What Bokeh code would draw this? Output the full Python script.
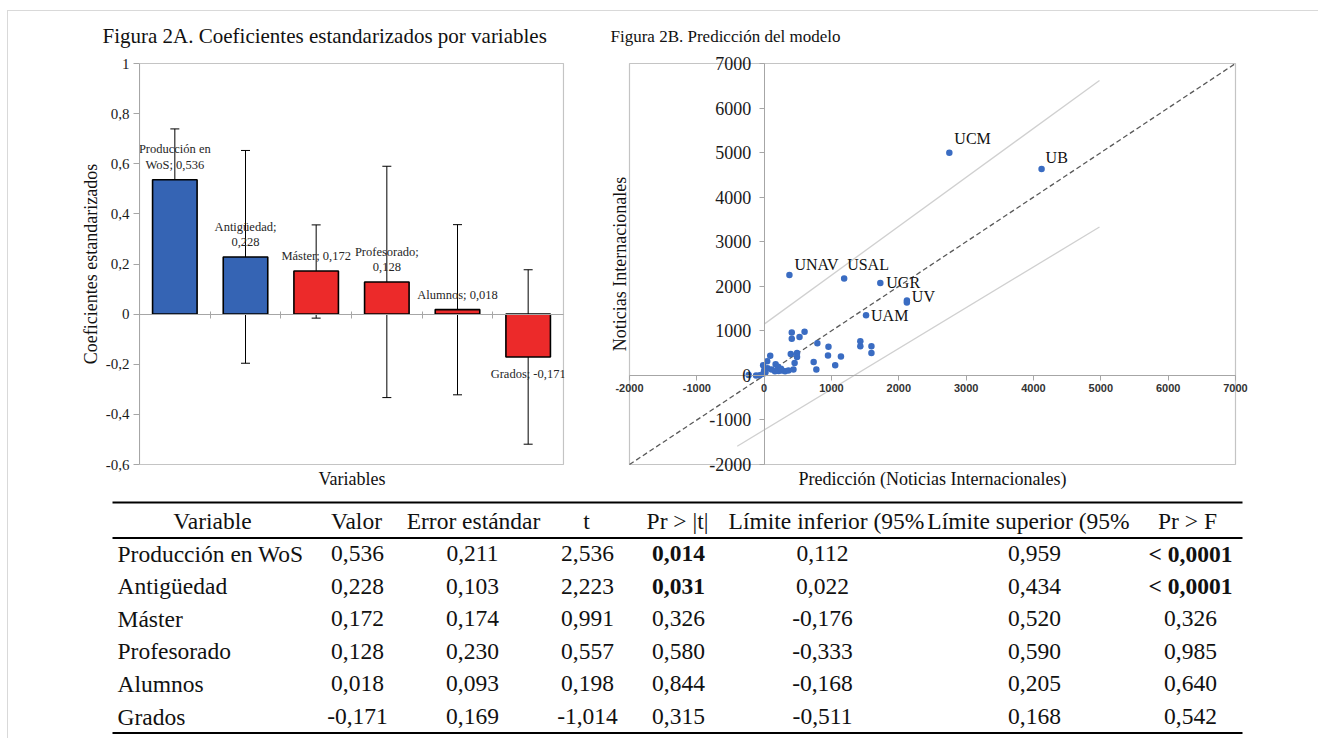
from bokeh.plotting import figure
from bokeh.models import (ColumnDataSource, Range1d, LinearAxis, FixedTicker, Whisker, TeeHead,
                          CustomJSTickFormatter, LabelSet)
from bokeh.layouts import row, column
from bokeh.core.properties import value
from bokeh.embed import file_html
from bokeh.resources import INLINE

# ---------------- data ----------------
variables = ["Producción en WoS", "Antigüedad", "Máster", "Profesorado", "Alumnos", "Grados"]
coef = [0.536, 0.228, 0.172, 0.128, 0.018, -0.171]
err_low = [0.330, -0.196, -0.016, -0.333, -0.322, -0.519]
err_high = [0.739, 0.653, 0.356, 0.590, 0.357, 0.177]
bar_label_names = ["Producción en\nWoS;", "Antigüedad;\n", "Máster;", "Profesorado;\n", "Alumnos;", "Grados;"]
a_lim = [-0.6, 1.0]
a_ticks = [-0.6, -0.4, -0.2, 0, 0.2, 0.4, 0.6, 0.8, 1]

std_err = [0.211, 0.103, 0.174, 0.230, 0.093, 0.169]
t_val = [2.536, 2.223, 0.991, 0.557, 0.198, -1.014]
pr_t = [0.014, 0.031, 0.326, 0.580, 0.844, 0.315]
ci_low = [0.112, 0.022, -0.176, -0.333, -0.168, -0.511]
ci_high = [0.959, 0.434, 0.520, 0.590, 0.205, 0.168]
pr_f = ["< 0,0001", "< 0,0001", "0,326", "0,985", "0,640", "0,542"]
headers = ["Variable", "Valor", "Error estándar", "t", "Pr > |t|",
           "Límite inferior (95%", "Límite superior (95%", "Pr > F"]

names = ["UCM", "UB", "UNAV", "USAL", "UGR", "UV", "UAM"]
pred_named = [2750, 4120, 375, 1188, 1725, 2119, 1513]
obs_named = [4995, 4630, 2255, 2172, 2076, 1634, 1351]
pred_other = [410, 410, 600, 525, 790, 395, 488, 488, 452, 435, 735, 775, 955, 948, 1140, 1055,
              1428, 1428, 1593, 1593, 90, 45, -15, 170, 205, 50, 160, 215, 265, 310, 360, 20,
              -15, -65, -120, -230, 0, 110, 250, 2120]
obs_other = [965, 820, 980, 860, 720, 480, 505, 410, 280, 130, 300, 130, 640, 445, 425, 230,
             765, 655, 655, 500, 440, 315, 230, 250, 195, 160, 95, 100, 110, 95, 110, 70,
             35, 5, 0, 10, 110, 130, 150, 1680]
band_up_x = [0, 4980]
band_up_y = [1150, 6620]
band_lo_x = [-400, 4980]
band_lo_y = [-1590, 3330]
b_lim = [-2000, 7000]
b_ticks = [-2000, -1000, 0, 1000, 2000, 3000, 4000, 5000, 6000, 7000]

# ---------------- styles ----------------
SERIF = "Liberation Serif"
BLUE = "#3564B4"
RED = "#EC2A2A"
AXIS_GRAY = "#a6a6a6"
FRAME_GRAY = "#c4c4c4"
TXT = "#111111"

FIG_H = 487
BOX_TOP = 52          # border above the drawn box (px, inside each figure)
BOX_H = 401           # height of the drawn plot box
PAD_Y = 10            # room kept above/below the box so edge labels are not clipped
TOP_B = BOX_TOP - PAD_Y
BOT_B = FIG_H - TOP_B - (BOX_H + 2 * PAD_Y)


def fmt(v):
    return f"{v:.3f}".replace(".", ",")


def label_axis(text, standoff):
    return LinearAxis(ticker=FixedTicker(ticks=[]), axis_label=text, axis_line_color=None,
                      major_tick_line_color=None, minor_tick_line_color=None, major_tick_out=0,
                      major_tick_in=0, major_label_standoff=0, axis_label_standoff=standoff,
                      major_label_text_color=None,
                      axis_label_text_font=SERIF, axis_label_text_font_size="18px",
                      axis_label_text_font_style="normal", axis_label_text_color=TXT)


# ---------------- Figura 2A ----------------
n = len(variables)
xpos = [i + 0.5 for i in range(n)]
colors = [BLUE if p < 0.05 else RED for p in pr_t]
bar_labels = [nm + ("" if nm.endswith("\n") else " ") + fmt(v) for nm, v in zip(bar_label_names, coef)]

A_BOX_W = 424
a_span = a_lim[1] - a_lim[0]
a_pad = a_span * PAD_Y / BOX_H
pA = figure(width=580, height=FIG_H,
            x_range=Range1d(0, n + n * 1.0 / A_BOX_W),
            y_range=Range1d(a_lim[0] - a_pad, a_lim[1] + a_pad),
            x_axis_type=None, output_backend="svg", toolbar_location=None,
            min_border_left=131, min_border_right=580 - 131 - (A_BOX_W + 1),
            min_border_top=TOP_B, min_border_bottom=BOT_B,
            title="Figura 2A. Coeficientes estandarizados por variables")
pA.grid.visible = False
pA.outline_line_color = None
pA.title.text_font = SERIF
pA.title.text_font_size = "21px"
pA.title.text_font_style = "normal"
pA.title.text_color = TXT
pA.title.align = "left"
pA.title.offset = -37
pA.title.standoff = 12

pA.quad(left=0, right=n, bottom=a_lim[0], top=a_lim[1], fill_color=None,
        line_color=FRAME_GRAY, line_width=1.2)

srcA = ColumnDataSource(dict(x=xpos, top=coef, lower=err_low, upper=err_high, color=colors))
pA.vbar(x="x", top="top", bottom=0, width=0.63, fill_color="color", line_color="black",
        line_width=1.6, source=srcA)
pA.add_layout(Whisker(source=srcA, base="x", lower="lower", upper="upper", line_color="black",
                      line_width=1,
                      upper_head=TeeHead(size=9, line_color="black", line_width=1),
                      lower_head=TeeHead(size=9, line_color="black", line_width=1)))

pos = [i for i, v in enumerate(coef) if v >= 0]
neg = [i for i, v in enumerate(coef) if v < 0]
srcPos = ColumnDataSource(dict(x=[xpos[i] for i in pos], y=[coef[i] for i in pos],
                               t=[bar_labels[i] for i in pos]))
srcNeg = ColumnDataSource(dict(x=[xpos[i] for i in neg], y=[coef[i] for i in neg],
                               t=[bar_labels[i] for i in neg]))
pA.text(x="x", y="y", text="t", source=srcPos, text_align="center", text_baseline="bottom",
        y_offset=-8, text_font=value(SERIF), text_font_size="12.5px", text_color="#262626",
        text_line_height=1.1)
pA.text(x="x", y="y", text="t", source=srcNeg, text_align="center", text_baseline="top",
        y_offset=10, text_font=value(SERIF), text_font_size="12.5px", text_color="#262626")

ya = pA.yaxis[0]
ya.ticker = FixedTicker(ticks=a_ticks)
ya.bounds = tuple(a_lim)
ya.formatter = CustomJSTickFormatter(code="""
    if (Math.abs(tick) < 1e-9) return "0";
    if (Math.abs(tick - Math.round(tick)) < 1e-9) return tick.toFixed(0);
    return tick.toFixed(1).replace('.', ',');
""")
ya.major_label_text_font = SERIF
ya.major_label_text_font_size = "15px"
ya.major_label_text_color = "#1a1a1a"
ya.major_label_standoff = 4
ya.major_tick_out = 6
ya.major_tick_in = 0
ya.minor_tick_line_color = None
ya.axis_line_color = AXIS_GRAY
ya.major_tick_line_color = AXIS_GRAY
ya.axis_label = "Coeficientes estandarizados"
ya.axis_label_text_font = SERIF
ya.axis_label_text_font_size = "18px"
ya.axis_label_text_font_style = "normal"
ya.axis_label_text_color = TXT
ya.axis_label_standoff = 2

xa0 = LinearAxis(fixed_location=0, ticker=FixedTicker(ticks=list(range(1, n))), bounds=(0, n),
                 major_label_text_color=None, major_tick_in=3, major_tick_out=4,
                 axis_line_color=AXIS_GRAY, major_tick_line_color=AXIS_GRAY,
                 minor_tick_line_color=None)
pA.add_layout(xa0, "below")
pA.add_layout(label_axis("Variables", -6), "below")

# ---------------- Figura 2B ----------------
B_BOX_W = 606
PAD_X = 16
span = b_lim[1] - b_lim[0]
pad_xu = span * PAD_X / B_BOX_W
pad_yu = span * PAD_Y / BOX_H
B_LEFT = 41 - PAD_X
pB = figure(width=720, height=FIG_H,
            x_range=Range1d(b_lim[0] - pad_xu, b_lim[1] + pad_xu),
            y_range=Range1d(b_lim[0] - pad_yu, b_lim[1] + pad_yu),
            x_axis_type=None, y_axis_type=None, output_backend="svg", toolbar_location=None,
            min_border_left=B_LEFT, min_border_right=720 - B_LEFT - (B_BOX_W + 2 * PAD_X),
            min_border_top=TOP_B, min_border_bottom=BOT_B,
            title="Figura 2B. Predicción del modelo")
pB.grid.visible = False
pB.outline_line_color = None
pB.title.text_font = SERIF
pB.title.text_font_size = "17px"
pB.title.text_font_style = "normal"
pB.title.text_color = TXT
pB.title.align = "left"
pB.title.offset = -19 + PAD_X
pB.title.standoff = 16

pB.quad(left=b_lim[0], right=b_lim[1], bottom=b_lim[0], top=b_lim[1], fill_color=None,
        line_color=FRAME_GRAY, line_width=1.2)
pB.line(x=b_lim, y=b_lim, line_color="#595959", line_dash="5 3", line_width=1.3)
pB.line(x=band_up_x, y=band_up_y, line_color="#d0d0d0", line_width=1.3)
pB.line(x=band_lo_x, y=band_lo_y, line_color="#d0d0d0", line_width=1.3)

xB = LinearAxis(fixed_location=0, ticker=FixedTicker(ticks=b_ticks), bounds=tuple(b_lim),
                major_label_text_color=None, major_tick_out=5, major_tick_in=0,
                axis_line_color=AXIS_GRAY, major_tick_line_color=AXIS_GRAY,
                minor_tick_line_color=None)
pB.add_layout(xB, "below")
yB = LinearAxis(fixed_location=0, ticker=FixedTicker(ticks=b_ticks), bounds=tuple(b_lim),
                major_label_text_color=None, major_tick_out=5, major_tick_in=0,
                axis_line_color=AXIS_GRAY, major_tick_line_color=AXIS_GRAY,
                minor_tick_line_color=None)
pB.add_layout(yB, "left")
pB.add_layout(label_axis("Predicción (Noticias Internacionales)", -6), "below")
pB.add_layout(label_axis("Noticias Internacionales", -PAD_X), "left")

pB.scatter(x=pred_other, y=obs_other, size=6.5, fill_color="#3a6cc2", line_color=None)
pB.scatter(x=pred_named, y=obs_named, size=6.5, fill_color="#3a6cc2", line_color=None)

label_dx = [5, 4, 5, 3, 6, 5, 5]
label_dy = [-14, -12, -10, -14, 0, -6, 0]
for nm, px, py, dx, dy in zip(names, pred_named, obs_named, label_dx, label_dy):
    pB.text(x=[px], y=[py], text=[nm], x_offset=dx, y_offset=dy, text_align="left",
            text_baseline="middle", text_font=value(SERIF), text_font_size="16px",
            text_color=TXT)

srcXT = ColumnDataSource(dict(x=b_ticks, y=[0] * len(b_ticks), t=[str(v) for v in b_ticks]))
srcYT = ColumnDataSource(dict(x=[0] * len(b_ticks), y=b_ticks, t=[str(v) for v in b_ticks]))
pB.add_layout(LabelSet(x="x", y="y", text="t", source=srcXT, y_offset=-9, text_align="center",
                       text_baseline="top", text_font=value("Liberation Sans"),
                       text_font_style="bold", text_font_size="11px", text_color="#333333"))
pB.add_layout(LabelSet(x="x", y="y", text="t", source=srcYT, x_offset=-13, text_align="right",
                       text_baseline="middle", text_font=value(SERIF),
                       text_font_size="18px", text_color="#1a1a1a"))

# ---------------- Table ----------------
pT = figure(width=1300, height=240, x_range=Range1d(8, 1308), y_range=Range1d(738, 498),
            x_axis_type=None, y_axis_type=None, output_backend="svg", toolbar_location=None,
            min_border=0, outline_line_color=None)
pT.grid.visible = False

TL, TR = 112, 1242
pT.segment(x0=[TL, TL, TL], x1=[TR, TR, TR], y0=[502, 537.5, 732.5], y1=[502, 537.5, 732.5],
           line_color="black", line_width=2.2)

TFS = "23.5px"
header_x = [212, 356, 473, 586, 677, 826, 1028, 1187]
header_y = 520
pT.text(x=header_x, y=[header_y] * len(headers), text=headers, text_align="center",
        text_baseline="middle", text_font=value(SERIF), text_font_size=TFS, text_color=TXT)

row_y = [553 + i * 32.6 for i in range(n)]
pT.text(x=[117] * n, y=row_y, text=variables, text_align="left", text_baseline="middle",
        text_font=value(SERIF), text_font_size=TFS, text_color=TXT)

col_x = [357, 472, 587, 678, 822, 1034, 1190]
columns = [
    ([fmt(v) for v in coef], [False] * n),
    ([fmt(v) for v in std_err], [False] * n),
    ([fmt(v) for v in t_val], [False] * n),
    ([fmt(v) for v in pr_t], [p < 0.05 for p in pr_t]),
    ([fmt(v) for v in ci_low], [False] * n),
    ([fmt(v) for v in ci_high], [False] * n),
    (pr_f, [s.startswith("<") for s in pr_f]),
]
for cx, (texts, bold) in zip(col_x, columns):
    for style in (False, True):
        idx = [i for i in range(n) if bold[i] == style]
        if not idx:
            continue
        pT.text(x=[cx] * len(idx), y=[row_y[i] for i in idx], text=[texts[i] for i in idx],
                text_align="center", text_baseline="middle", text_font=value(SERIF),
                text_font_size=TFS, text_font_style="bold" if style else "normal",
                text_color=TXT)

layout = column(row(pA, pB), pT,
                styles={"margin-left": "7px", "margin-top": "10px", "padding-right": "10px",
                        "border-left": "1px solid #d9d9d9", "border-top": "1px solid #d9d9d9"})
open("out.html", "w").write(file_html(layout, INLINE))
